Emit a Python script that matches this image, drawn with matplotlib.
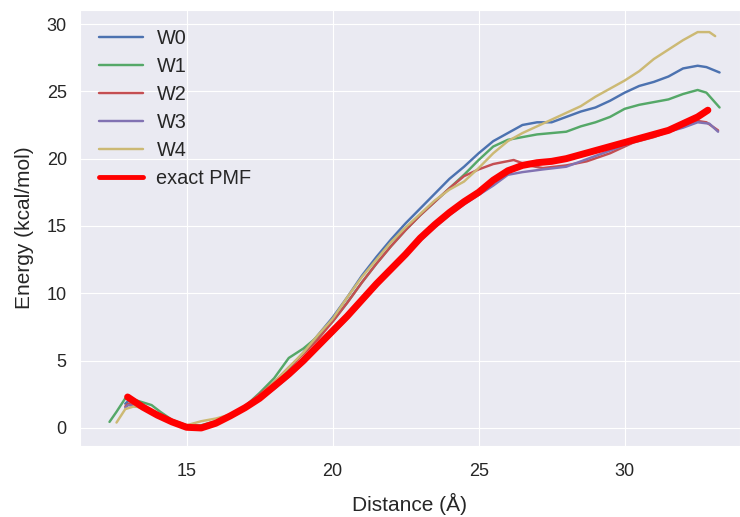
import matplotlib
matplotlib.use("Agg")
import matplotlib.pyplot as plt
import seaborn as sns

sns.set_style("darkgrid")
plt.rcParams['font.family'] = ['Liberation Sans', 'DejaVu Sans']

# W0 (blue)
w0_x = [12.9, 13.0, 13.5, 14.0, 14.5, 15.0, 15.5, 16.0, 16.5, 17.0, 17.5, 18.0, 18.5, 19.0, 19.5,
        20.0, 20.5, 21.0, 21.5, 22.0, 22.5, 23.0, 23.5, 24.0, 24.5, 25.0, 25.5, 26.0, 26.5, 27.0,
        27.5, 28.0, 28.5, 29.0, 29.5, 30.0, 30.5, 31.0, 31.5, 32.0, 32.5, 32.8, 33.25]
w0_y = [1.8, 2.0, 1.6, 1.0, 0.5, 0.15, 0.1, 0.4, 0.9, 1.5, 2.3, 3.3, 4.4, 5.6, 6.9,
        8.2, 9.7, 11.3, 12.7, 14.0, 15.2, 16.3, 17.4, 18.5, 19.4, 20.4, 21.3, 21.9, 22.5, 22.7,
        22.7, 23.1, 23.5, 23.8, 24.3, 24.9, 25.4, 25.7, 26.1, 26.7, 26.9, 26.8, 26.4]

# W1 (green)
w1_x = [12.36, 12.6, 12.9, 13.2, 13.5, 13.8, 14.1, 14.5, 15.0, 15.5, 16.0, 16.5, 17.0, 17.5, 18.0,
        18.5, 19.0, 19.5, 20.0, 20.5, 21.0, 21.5, 22.0, 22.5, 23.0, 23.5, 24.0, 24.5, 25.0, 25.5,
        26.0, 26.5, 27.0, 27.5, 28.0, 28.5, 29.0, 29.5, 30.0, 30.5, 31.0, 31.5, 32.0, 32.5, 32.8, 33.25]
w1_y = [0.45, 1.2, 2.2, 2.1, 1.9, 1.7, 1.2, 0.6, 0.2, 0.2, 0.5, 0.9, 1.6, 2.6, 3.7,
        5.2, 5.9, 6.8, 7.9, 9.3, 10.8, 12.2, 13.5, 14.7, 15.8, 16.8, 17.8, 18.8, 19.9, 20.9,
        21.4, 21.6, 21.8, 21.9, 22.0, 22.4, 22.7, 23.1, 23.7, 24.0, 24.2, 24.4, 24.8, 25.1, 24.9, 23.8]

# W2 (red)
w2_x = [12.9, 13.0, 13.5, 14.0, 14.5, 15.0, 15.5, 16.0, 16.5, 17.0, 17.5, 18.0, 18.5, 19.0, 19.5,
        20.0, 20.5, 21.0, 21.5, 22.0, 22.5, 23.0, 23.5, 24.0, 24.5, 25.0, 25.5, 26.2, 26.7, 27.2,
        28.0, 28.7, 29.5, 30.3, 31.0, 31.5, 32.0, 32.5, 32.8, 33.2]
w2_y = [1.6, 1.8, 1.5, 0.9, 0.5, 0.15, 0.15, 0.4, 0.9, 1.6, 2.5, 3.4, 4.5, 5.5, 6.6,
        7.9, 9.3, 10.8, 12.2, 13.5, 14.7, 15.8, 16.8, 17.8, 18.7, 19.2, 19.6, 19.9, 19.5, 19.3,
        19.5, 19.8, 20.4, 21.2, 21.6, 22.0, 22.4, 22.8, 22.7, 22.1]

# W3 (purple)
w3_x = [12.9, 13.0, 13.5, 14.0, 14.5, 15.0, 15.5, 16.0, 16.5, 17.0, 17.5, 18.0, 18.5, 19.0, 19.5,
        20.0, 20.5, 21.0, 21.5, 22.0, 22.5, 23.0, 23.5, 24.0, 24.5, 25.0, 25.5, 26.0, 26.5, 27.2,
        28.0, 28.5, 29.0, 29.5, 30.0, 30.5, 31.0, 31.5, 32.0, 32.5, 32.9, 33.2]
w3_y = [1.5, 1.7, 1.5, 0.9, 0.45, 0.1, 0.05, 0.35, 0.8, 1.4, 2.1, 2.9, 3.8, 4.8, 5.9,
        7.0, 8.1, 9.3, 10.5, 11.7, 12.8, 13.9, 14.9, 15.8, 16.6, 17.3, 18.0, 18.8, 19.0, 19.2,
        19.4, 19.8, 20.2, 20.6, 21.0, 21.4, 21.7, 22.0, 22.3, 22.7, 22.6, 22.0]

# W4 (yellow)
w4_x = [12.6, 12.9, 13.2, 13.5, 14.0, 14.5, 15.0, 15.5, 16.0, 16.5, 17.0, 17.5, 18.0, 18.5, 19.0,
        19.5, 20.0, 20.5, 21.0, 21.5, 22.0, 22.5, 23.0, 23.5, 24.0, 24.5, 25.0, 25.5, 26.0, 26.5,
        27.0, 27.5, 28.0, 28.5, 29.0, 29.5, 30.0, 30.5, 31.0, 31.5, 32.0, 32.5, 32.9, 33.1]
w4_y = [0.4, 1.4, 1.6, 1.5, 0.9, 0.5, 0.2, 0.5, 0.7, 1.0, 1.6, 2.4, 3.4, 4.5, 5.6,
        6.9, 8.1, 9.7, 11.2, 12.5, 13.8, 14.9, 15.9, 16.9, 17.7, 18.3, 19.3, 20.4, 21.3, 21.9,
        22.4, 22.9, 23.4, 23.9, 24.6, 25.2, 25.8, 26.5, 27.4, 28.1, 28.8, 29.4, 29.4, 29.1]

# exact PMF
pmf_x = [12.98, 13.5, 14.0, 14.5, 15.0, 15.5, 16.0, 16.5, 17.0, 17.5, 18.0, 18.5, 19.0, 19.5,
         20.0, 20.5, 21.0, 21.5, 22.0, 22.5, 23.0, 23.5, 24.0, 24.5, 25.0, 25.5, 26.0, 26.5,
         27.0, 27.5, 28.0, 28.5, 29.0, 29.5, 30.0, 30.5, 31.0, 31.5, 32.0, 32.5, 32.85]
pmf_y = [2.3, 1.55, 0.95, 0.45, 0.05, 0.0, 0.35, 0.9, 1.5, 2.2, 3.1, 4.0, 5.0, 6.1,
         7.2, 8.3, 9.5, 10.7, 11.8, 12.9, 14.1, 15.1, 16.0, 16.8, 17.5, 18.4, 19.1, 19.5,
         19.7, 19.8, 20.0, 20.3, 20.6, 20.9, 21.2, 21.5, 21.8, 22.1, 22.6, 23.1, 23.6]

fig = plt.figure(figsize=(7.4, 5.17), dpi=100)
ax = fig.add_axes([80 / 740, 71 / 517, 660 / 740, 436 / 517])

ax.plot(w0_x, w0_y, color='#4C72B0', lw=1.75, label='W0')
ax.plot(w1_x, w1_y, color='#55A868', lw=1.75, label='W1')
ax.plot(w2_x, w2_y, color='#C44E52', lw=1.75, label='W2')
ax.plot(w3_x, w3_y, color='#8172B2', lw=1.75, label='W3')
ax.plot(w4_x, w4_y, color='#CCB974', lw=1.75, label='W4')
ax.plot(pmf_x, pmf_y, color='red', lw=5, label='exact PMF')

ax.set_xlim(11.35, 33.95)
ax.set_ylim(-1.34, 31.04)
ax.set_xticks([15, 20, 25, 30])
ax.set_yticks([0, 5, 10, 15, 20, 25, 30])
ax.tick_params(axis='both', labelsize=13, colors='#262626')
ax.tick_params(axis='x', pad=9)
ax.tick_params(axis='y', pad=6)
ax.set_xlabel('Distance (Å)', fontsize=15, color='#262626', labelpad=9)
ax.set_ylabel('Energy (kcal/mol)', fontsize=15, color='#262626', labelpad=9)

leg = ax.legend(loc='upper left', frameon=False, fontsize=14.3, handlelength=2.2,
                handletextpad=0.7, labelspacing=0.45, borderaxespad=0.55)
for line in leg.get_lines():
    if line.get_label() == 'exact PMF':
        line.set_linewidth(3.5)

fig.savefig('out.png', dpi=100)
